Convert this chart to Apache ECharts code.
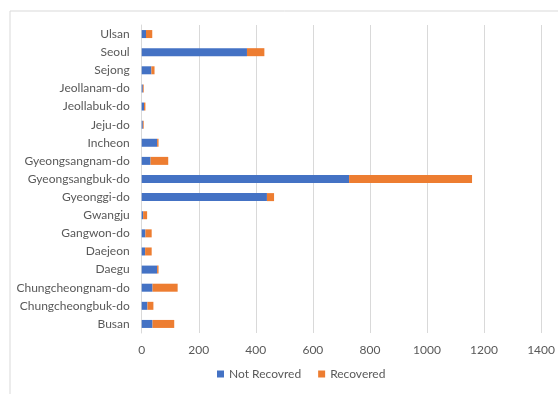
<!DOCTYPE html>
<html>
<head>
<meta charset="utf-8">
<script src="https://cdn.jsdelivr.net/npm/echarts@6/dist/echarts.min.js"></script>
<style>
html,body{margin:0;padding:0;background:#fff;}
#chart{width:558px;height:394px;}
</style>
</head>
<body>
<div id="chart"></div>
<script>
var categories = ["Busan","Chungcheongbuk-do","Chungcheongnam-do","Daegu","Daejeon","Gangwon-do","Gwangju","Gyeonggi-do","Gyeongsangbuk-do","Gyeongsangnam-do","Incheon","Jeju-do","Jeollabuk-do","Jeollanam-do","Sejong","Seoul","Ulsan"];
var notRecovered = [38,20,38,54,12,13,5,439,727,31,54,4,8,4,34,369,15];
var recovered = [76,21,88,5,23,22,14,25,431,62,5,3,5,3,11,61,22];
var xTicks = [0,200,400,600,800,1000,1200,1400];

var font = "Lato";
var chart = echarts.init(document.getElementById('chart'), null, {renderer:'canvas'});
chart.setOption({
  animation:false,
  backgroundColor:'#fff',
  graphic:[{type:'rect',shape:{x:10,y:11,width:600,height:450},style:{fill:'none',stroke:'#d9d9d9',lineWidth:1}}],
  grid:{left:141.7,right:15.3,top:25,bottom:61,containLabel:false},
  legend:{
    bottom:9,left:212,
    itemWidth:7,itemHeight:7,itemGap:17,icon:'rect',
    textStyle:{color:'#595959',fontSize:12,fontFamily:font},
    data:['Not Recovred','Recovered']
  },
  xAxis:{
    type:'value',min:xTicks[0],max:xTicks[xTicks.length-1],interval:200,
    axisLine:{show:false},axisTick:{show:false},
    splitLine:{lineStyle:{color:'#d9d9d9',width:1}},
    axisLabel:{color:'#595959',fontSize:12,fontFamily:font,margin:11,formatter:function(v){return String(v);}}
  },
  yAxis:{
    type:'category',data:categories,
    axisLine:{lineStyle:{color:'#d9d9d9'}},axisTick:{show:false},
    axisLabel:{color:'#595959',fontSize:12,fontFamily:font,margin:12}
  },
  series:[
    {name:'Not Recovred',type:'bar',stack:'a',data:notRecovered,barWidth:8,itemStyle:{color:'#4472C4'}},
    {name:'Recovered',type:'bar',stack:'a',data:recovered,barWidth:8,itemStyle:{color:'#ED7D31'}}
  ]
});
</script>
</body>
</html>
